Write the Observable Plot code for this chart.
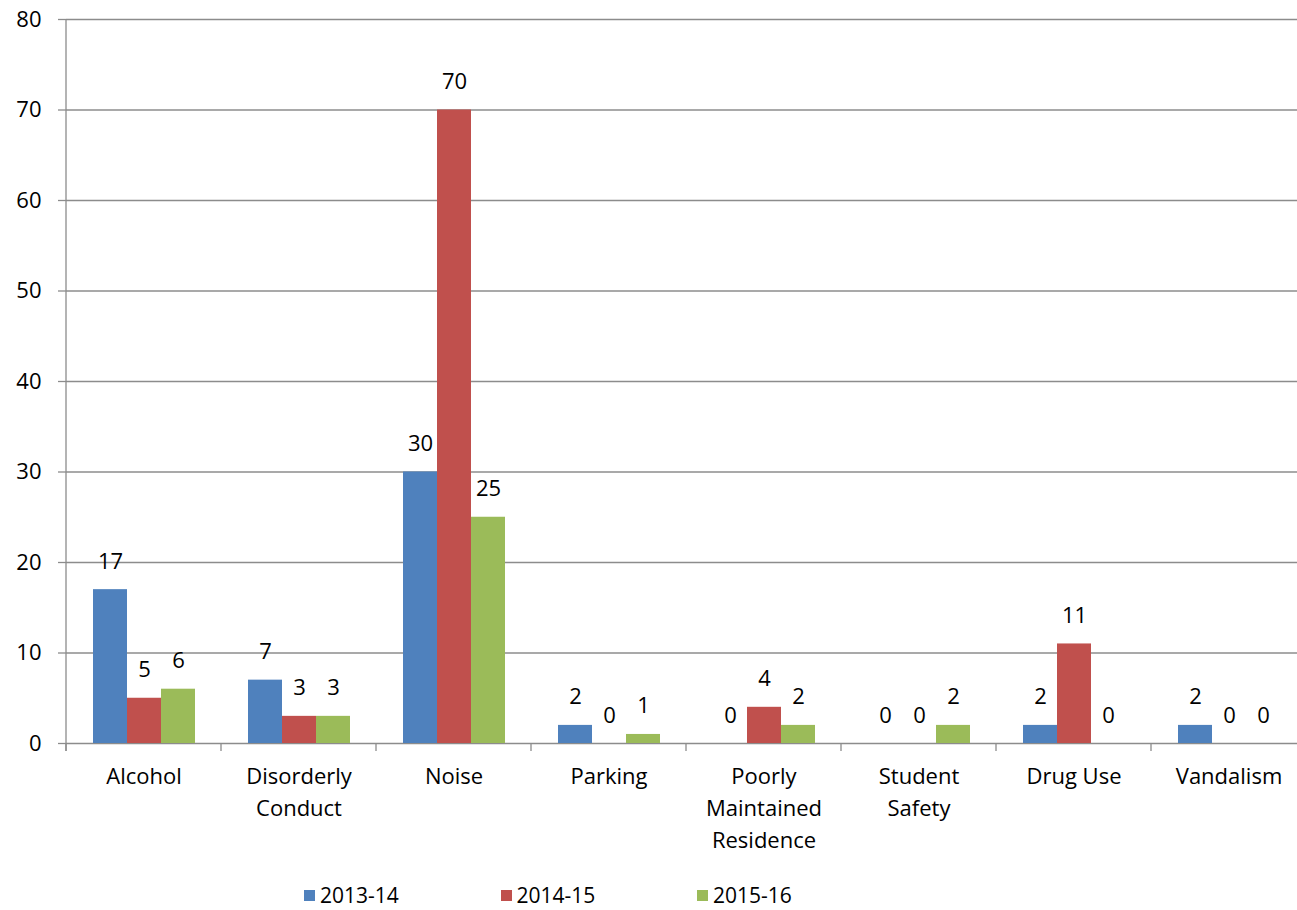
<!DOCTYPE html>
<html>
<head>
<meta charset="utf-8">
<script src="https://cdn.jsdelivr.net/npm/d3@7"></script>
<script src="https://cdn.jsdelivr.net/npm/@observablehq/plot@0.6"></script>
<style>
  html, body { margin: 0; padding: 0; background: white; overflow: hidden; }
  #chart { width: 1297px; height: 910px; position: relative; font-family: "Open Sans", sans-serif; }
  #chart svg { display: block; }
  #legend { display: flex; padding-left: 304px; margin-top: 17px; height: 28px; align-items: center; font-size: 21px; line-height: 28px; color: #000; }
  .item { display: flex; align-items: center; width: 196.5px; }
  .sw { width: 11px; height: 11px; margin-right: 5px; }
</style>
</head>
<body>
<div id="chart"></div>
<script>
const categories = ["Alcohol", "Disorderly Conduct", "Noise", "Parking", "Poorly Maintained Residence", "Student Safety", "Drug Use", "Vandalism"];
const categoryLabels = ["Alcohol", "Disorderly\nConduct", "Noise", "Parking", "Poorly\nMaintained\nResidence", "Student\nSafety", "Drug Use", "Vandalism"];
const series = ["2013-14", "2014-15", "2015-16"];
const values2013 = [17, 7, 30, 2, 0, 0, 2, 2];
const values2014 = [5, 3, 70, 0, 4, 0, 11, 0];
const values2015 = [6, 3, 25, 1, 2, 2, 0, 0];
const colors = ["#4F81BD", "#C0504D", "#9BBB59"];
const yTicks = [0, 10, 20, 30, 40, 50, 60, 70, 80];

const seriesValues = [values2013, values2014, values2015];
const data = [];
categories.forEach((c, i) => series.forEach((s, j) => data.push({category: c, series: s, value: seriesValues[j][i]})));
const labelOf = new Map(categories.map((c, i) => [c, categoryLabels[i]]));

const font = "'Open Sans', sans-serif";
const plot = Plot.plot({
  width: 1297,
  height: 864,
  marginLeft: 65,
  marginRight: -10.4,
  marginTop: 19,
  marginBottom: 121,
  style: {fontFamily: font, fontSize: "22px", background: "white", color: "#000"},
  fx: {domain: categories, padding: 0, label: null},
  x: {domain: series, paddingInner: 0, paddingOuter: 0.735, axis: null},
  y: {domain: [0, 80], label: null},
  color: {domain: series, range: colors},
  marks: [
    Plot.gridY(yTicks, {stroke: "#8c8c8c", strokeOpacity: 1, strokeWidth: 1.3}),
    Plot.axisY(yTicks, {tickSize: 8, tickPadding: 17, stroke: "#8c8c8c", strokeWidth: 1.3, label: null, fontSize: 22, fill: "#000"}),
    Plot.axisFx({anchor: "bottom", tickSize: 0, tickPadding: 18, lineHeight: 1.45, label: null, fontSize: 22, tickFormat: d => labelOf.get(d), fill: "#000"}),
    Plot.barY(data, {fx: "category", x: "series", y: "value", fill: "series"}),
    Plot.text(data, {fx: "category", x: "series", y: "value", text: d => String(d.value), dy: -28, fontSize: 22, fill: "#000"})
  ]
});

// axis line and category boundary ticks from the plot's scales
const fx = plot.scale("fx");
const ys = plot.scale("y");
const y0 = ys.apply(0), yTop = ys.apply(80);
const svg = d3.select(plot.tagName === "svg" ? plot : plot.querySelector("svg"));
const g = svg.append("g").attr("stroke", "#8c8c8c").attr("stroke-width", 1.3);
const starts = categories.map(c => fx.apply(c));
g.append("line").attr("x1", starts[0]).attr("x2", starts[0]).attr("y1", yTop).attr("y2", y0 + 8);
starts.concat([starts[starts.length - 1] + fx.step]).forEach(x => {
  g.append("line").attr("x1", x).attr("x2", x).attr("y1", y0).attr("y2", y0 + 8);
});

const chart = document.getElementById("chart");
chart.appendChild(plot);

const legend = document.createElement("div");
legend.id = "legend";
series.forEach((s, i) => {
  const item = document.createElement("div");
  item.className = "item";
  const sw = document.createElement("span");
  sw.className = "sw";
  sw.style.background = colors[i];
  const t = document.createElement("span");
  t.textContent = s;
  item.appendChild(sw);
  item.appendChild(t);
  legend.appendChild(item);
});
chart.appendChild(legend);
</script>
</body>
</html>
